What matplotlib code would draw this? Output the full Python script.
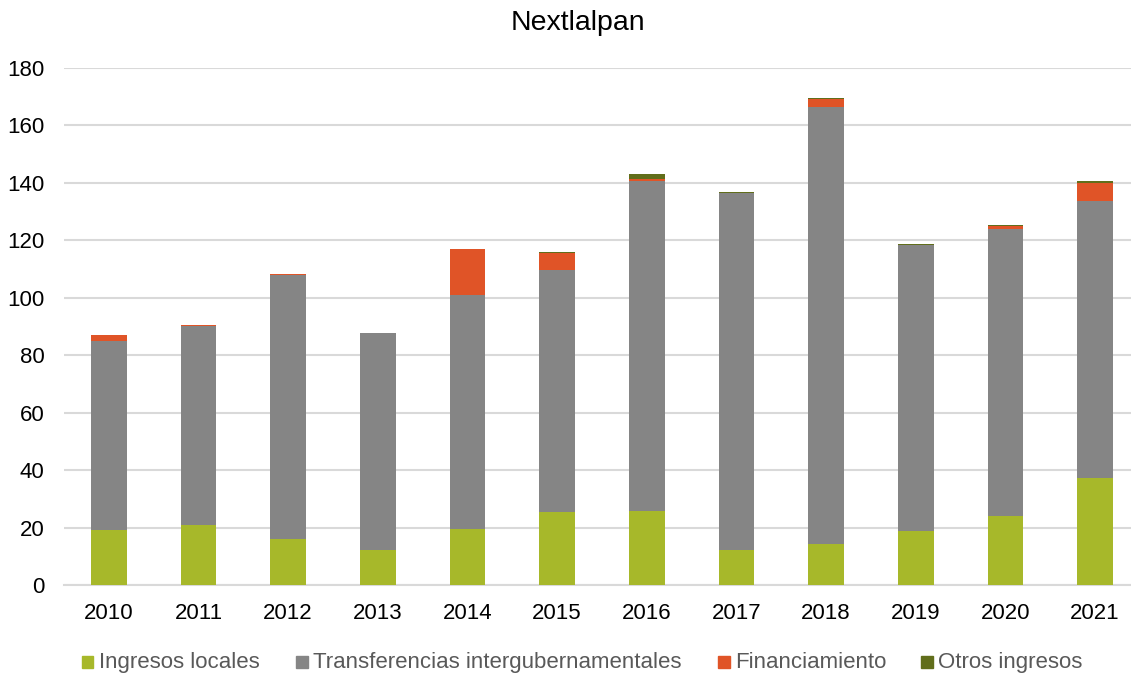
import matplotlib
matplotlib.use("Agg")
import matplotlib.pyplot as plt
from matplotlib.patches import Rectangle
import numpy as np

plt.rcParams['font.family'] = ['Liberation Sans', 'DejaVu Sans']

# datos
anios = ['2010', '2011', '2012', '2013', '2014', '2015', '2016', '2017', '2018', '2019', '2020', '2021']
locales = [19.0, 20.9, 16.0, 12.1, 19.6, 25.4, 25.7, 12.1, 14.4, 18.9, 24.1, 37.3]
transferencias = [66.1, 69.3, 91.9, 75.6, 81.3, 84.2, 115.1, 124.5, 152.0, 99.6, 99.9, 96.5]
financiamiento = [1.8, 0.4, 0.3, 0.0, 16.1, 5.9, 0.7, 0.0, 2.8, 0.0, 1.0, 6.2]
otros = [0.0, 0.0, 0.0, 0.0, 0.0, 0.4, 1.5, 0.3, 0.4, 0.3, 0.3, 0.7]

nombres = ['Ingresos locales', 'Transferencias intergubernamentales', 'Financiamiento', 'Otros ingresos']
colores = ['#A7B82A', '#858585', '#E05427', '#616E1B']

W, H = 1131, 675
fig = plt.figure(figsize=(W/100, H/100), dpi=100)
ax = fig.add_axes([64/W, 1-585/H, 1076/W, 517/H])

x = np.arange(len(anios))
base = np.zeros(len(anios))
for serie, col in zip([locales, transferencias, financiamiento, otros], colores):
    ax.bar(x, serie, 0.4, bottom=base, color=col, zorder=3)
    base = base + np.array(serie)

ax.set_xlim(-0.5, len(anios) - 0.5)
ax.set_ylim(0, 180)
ax.set_yticks(range(0, 181, 20))
ax.set_xticks(x)
ax.set_xticklabels(anios)
ax.grid(axis='y', color='#D9D9D9', linewidth=1.5, zorder=0)
ax.set_axisbelow(True)
for s in ['top', 'right', 'left']:
    ax.spines[s].set_visible(False)
ax.spines['bottom'].set_color('#D9D9D9')
ax.spines['bottom'].set_linewidth(1.5)
ax.tick_params(axis='both', length=0, labelsize=16, colors='#000000')
ax.tick_params(axis='y', pad=14)
ax.tick_params(axis='x', pad=13)

fig.text(578/W, 1-29.5/H, 'Nextlalpan', ha='center', va='baseline', fontsize=20.5)

# leyenda a mano para que todos los textos queden en la misma linea base
pos_leyenda = [82, 296, 718, 921]
for px, nombre, col in zip(pos_leyenda, nombres, colores):
    fig.add_artist(Rectangle((px/W, 1-667.5/H), 11.5/W, 11.5/H, color=col, transform=fig.transFigure))
    fig.text((px+17)/W, 1-668/H, nombre, ha='left', va='baseline', fontsize=16, color='#595959')

fig.savefig('out.png', dpi=100)
